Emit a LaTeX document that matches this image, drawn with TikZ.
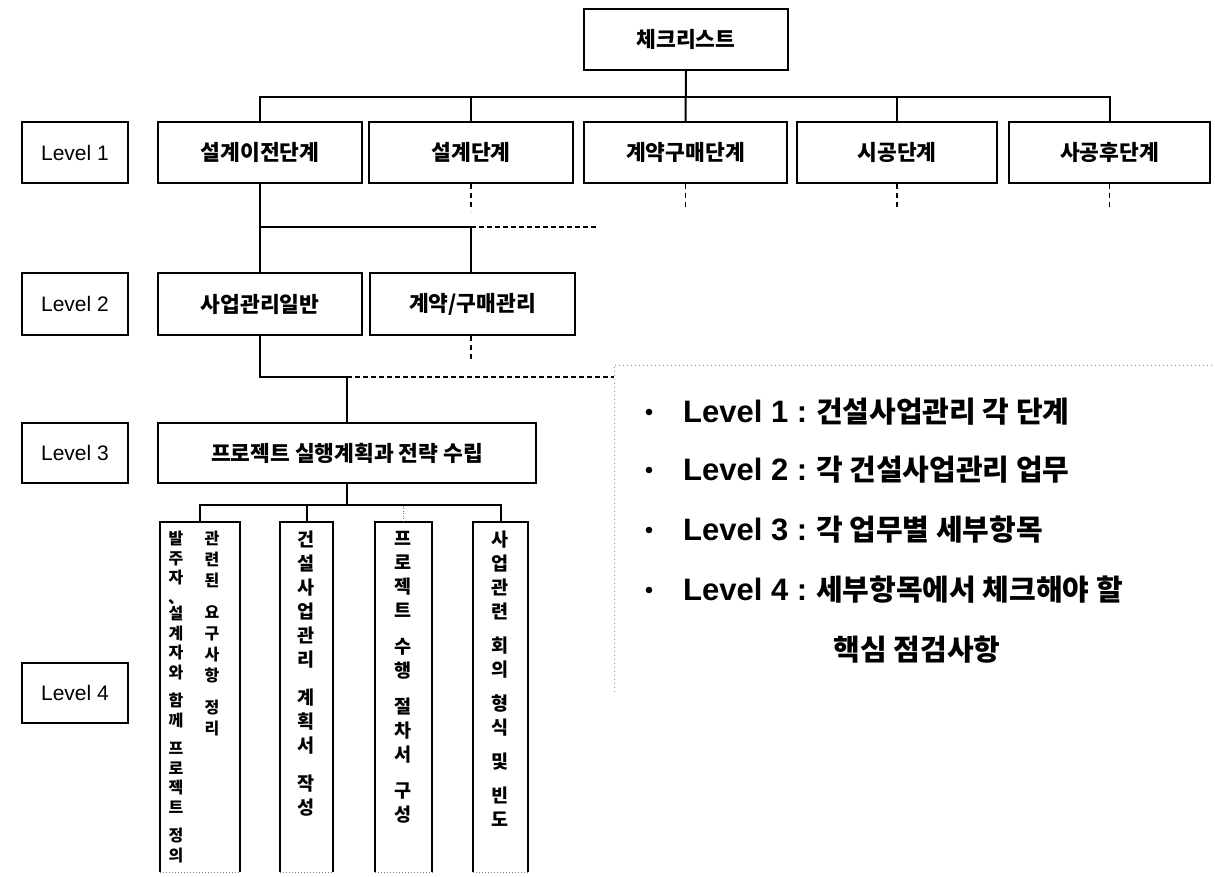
\documentclass[tikz,border=0pt]{standalone}
\usepackage{fontspec}
\setmainfont{Noto Sans CJK KR}
\newfontfamily\lat{Liberation Sans}
\begin{document}
\begin{tikzpicture}[x=1pt,y=-1pt,
  box/.style={draw, line width=2pt, inner sep=0pt, minimum height=61pt, font=\bfseries\fontsize{21.5}{24}\selectfont},
  lab/.style={box, minimum width=106pt, font=\lat\fontsize{21}{24}\selectfont},
  conn/.style={line width=2pt},
  dashline/.style={line width=2pt, dash pattern=on 5pt off 3pt},
  ticklink/.style={line width=1.6pt, dash pattern=on 5pt off 4pt},
  dotframe/.style={line width=0.8pt, black!45, dash pattern=on 1pt off 3pt},
  faint/.style={line width=0.8pt, black!50, dash pattern=on 1pt off 2pt},
  bul/.style={anchor=west, inner sep=0pt, font=\bfseries\fontsize{29}{32}\selectfont},
  vt/.style={anchor=north, inner sep=0pt, align=center, font=\bfseries\fontsize{18.5}{24}\selectfont},
  vts/.style={anchor=north, inner sep=0pt, align=center, font=\bfseries\fontsize{16}{19.5}\selectfont},
  l4box/.style={inner sep=0pt, minimum height=350pt}
]
\useasboundingbox (0,0) rectangle (1215,877);

% top
\node[box, minimum width=204pt] (top) at (686,39.5) {체크리스트};

% level 1
\node[lab] (lv1) at (75,152.5) {Level 1};
\node[box, minimum width=204pt] (s1) at (260,152.5) {설계이전단계};
\node[box, minimum width=204pt] (s2) at (471,152.5) {설계단계};
\node[box, minimum width=203pt] (s3) at (685.5,152.5) {계약구매단계};
\node[box, minimum width=200pt] (s4) at (897,152.5) {시공단계};
\node[box, minimum width=201pt] (s5) at (1109.5,152.5) {사공후단계};

% level 2
\node[lab, minimum height=62pt] (lv2) at (75,304) {Level 2};
\node[box, minimum width=204pt, minimum height=62pt] (m1) at (260,304) {사업관리일반};
\node[box, minimum width=205pt, minimum height=62pt] (m2) at (472.5,304) {계약/구매관리};

% level 3
\node[lab, minimum height=60pt] (lv3) at (75,453) {Level 3};
\node[box, minimum width=378pt, minimum height=60pt] (p) at (347,453) {프로젝트 실행계획과 전략 수립};

% level 4
\node[lab, minimum height=60pt] (lv4) at (75,693) {Level 4};
\node[l4box, minimum width=80pt] (q1) at (200,697) {};
\node[l4box, minimum width=53pt] (q2) at (306.5,697) {};
\node[l4box, minimum width=57pt] (q3) at (403.5,697) {};
\node[l4box, minimum width=55pt] (q4) at (500.5,697) {};
\foreach \q in {q1,q2,q3,q4}{
  \draw[conn] (\q.south west) -- (\q.north west) -- (\q.north east) -- (\q.south east);
  \draw[faint] (\q.south west) -- (\q.south east);
}

% level 4 texts
\node[vts, font=\bfseries\fontsize{16}{21}\selectfont] (t1b) at (212,531) {관\\련\\된\\[11pt]요\\구\\사\\항\\[11pt]정\\리};
\node[vts] (t1a) at (176,531) {발\\주\\자\\、\\[-3pt]설\\계\\자\\와\\[9pt]함\\께\\[9pt]프\\로\\젝\\트\\[9pt]정\\의};
\node[vt] (t2) at (306.5,531) {건\\설\\사\\업\\관\\리\\[14pt]계\\획\\서\\[14pt]작\\성};
\node[vt] (t3) at (403.5,531) {프\\로\\젝\\트\\[12pt]수\\행\\[12pt]절\\차\\서\\[12pt]구\\성};
\node[vt] (t4) at (500.5,531) {사\\업\\관\\련\\[10pt]회\\의\\[10pt]형\\식\\[10pt]및\\[10pt]빈\\도};

% connectors level 0-1
\coordinate (bus1) at (0,97);
\draw[conn] (top.south) -- (s3.north);
\draw[conn] (s1.north) -- (s1.north |- bus1) -- (s5.north |- bus1) -- (s5.north);
\draw[conn] (s2.north) -- (s2.north |- bus1);
\draw[conn] (s4.north) -- (s4.north |- bus1);

% level 1-2
\coordinate (bus2) at (0,227);
\coordinate (d1) at (598,227);
\draw[conn] (s1.south) -- (m1.north);
\draw[conn] (s1.south |- bus2) -- (s2.south |- bus2) -- (s2.south |- m2.north);
\draw[dashline] (s2.south |- bus2) -- (d1);
\draw[ticklink] (s2.south) -- ++(0,27);
\draw[ticklink] (s3.south) -- ++(0,26);
\draw[ticklink] (s4.south) -- ++(0,26);
\draw[ticklink] (s5.south) -- ++(0,26);

% level 2-3
\coordinate (bus3) at (0,377);
\coordinate (fc) at (614,377);
\draw[conn] (m1.south) -- (m1.south |- bus3) -- (p.north |- bus3) -- (p.north);
\draw[dashline] (p.north |- bus3) -- (fc);
\draw[ticklink] (s2.south |- m2.south) -- ++(0,26);

% level 3-4
\coordinate (bus4) at (0,505);
\draw[conn] (p.south) -- (p.south |- bus4);
\draw[conn] (q1.north) -- (q1.north |- bus4) -- (q4.north |- bus4) -- (q4.north);
\draw[conn] (q2.north) -- (q2.north |- bus4);
\draw[line width=0.8pt, black!55, dash pattern=on 1pt off 1.5pt] (q3.north) -- (q3.north |- bus4);

% dotted frame
\coordinate (fa) at (614,365);
\coordinate (fb) at (1212,365);
\coordinate (fd) at (614,695);
\draw[dotframe] (fb) -- (fa) -- (fd);

% bullet list
\foreach \yy in {412,470,530,590}{
  \fill (649,\yy) circle (3.3pt);
}
\node[bul] (n1) at (683,412) {{\lat\fontsize{31}{32}\selectfont Level 1 :} 건설사업관리 각 단계};
\node[bul] (n2) at (683,470) {{\lat\fontsize{31}{32}\selectfont Level 2 :} 각 건설사업관리 업무};
\node[bul] (n3) at (683,530) {{\lat\fontsize{31}{32}\selectfont Level 3 :} 각 업무별 세부항목};
\node[bul] (n4) at (683,590) {{\lat\fontsize{31}{32}\selectfont Level 4 :} 세부항목에서 체크해야 할};
\node[bul, anchor=center] (n5) at (917,650) {핵심 점검사항};
\end{tikzpicture}
\end{document}
